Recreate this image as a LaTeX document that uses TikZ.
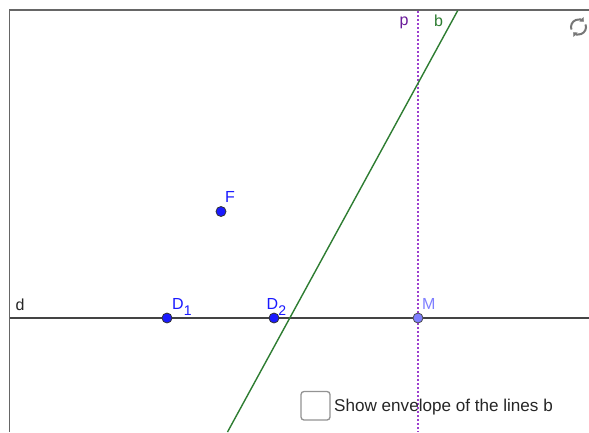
\documentclass[tikz,border=0pt]{standalone}
\usepackage{fontspec}
\setmainfont{Liberation Sans}
\usetikzlibrary{arrows.meta,calc}
\definecolor{framegray}{HTML}{666666}
\definecolor{linegray}{HTML}{444444}
\definecolor{bgreen}{HTML}{2E7D32}
\definecolor{ppurple}{HTML}{6A1B9A}
\definecolor{pdots}{HTML}{9C3FCF}
\definecolor{ptblue}{HTML}{1A1AFF}
\definecolor{mblue}{HTML}{7F7FFF}
\definecolor{iconr}{HTML}{777777}
\newcommand{\lowsub}[1]{\raisebox{-6pt}{\fontsize{14}{16}\selectfont #1}}
\begin{document}
\begin{tikzpicture}[x=1pt,y=-1pt,
  lbl/.style={font=\fontsize{16}{18}\selectfont, inner sep=0pt, anchor=base west},
  pt/.style={circle, draw=black!80, line width=0.8pt, fill=ptblue, minimum size=10pt, inner sep=0pt},
  mpt/.style={circle, draw=black!70, line width=0.8pt, fill=mblue, minimum size=10pt, inner sep=0pt},
  dline/.style={draw=linegray, line width=2pt},
  bline/.style={draw=bgreen, line width=1.4pt},
  pline/.style={draw=pdots, line width=1.6pt, dash pattern=on 1.8pt off 2.2pt},
]
\useasboundingbox (0,0) rectangle (589,432);
\fill[white] (0,0) rectangle (589,432);
% frame
\coordinate (fr1) at (589,10);
\coordinate (fr2) at (9.5,10);
\coordinate (fr3) at (9.5,432);
\draw[framegray, line width=1.3pt] (fr1) -- (fr2) -- (fr3);
% line d
\coordinate (dL) at (10,318);
\coordinate (dR) at (589,318);
\draw[dline] (dL) -- (dR);
% line p
\coordinate (pT) at (417.8,11);
\coordinate (pB) at (417.8,432);
\draw[pline] (pT) -- (pB);
% line b
\coordinate (bT) at (457.7,10.6);
\coordinate (bB) at (227.5,432);
\draw[bline] (bT) -- (bB);
% points
\node[pt] (D1) at (167,318) {};
\node[pt] (D2) at (274,318) {};
\node[pt] (F) at (221,211.5) {};
\node[mpt] (M) at (418,318) {};
% labels
\node[lbl, text=ptblue] (lD1) at (172,309) {D\lowsub{1}};
\node[lbl, text=ptblue] (lD2) at (266.5,309) {D\lowsub{2}};
\node[lbl, text=ptblue] (lF) at (225,202) {F};
\node[lbl, text=mblue] (lM) at (422,309) {M};
\node[lbl, text=black!85] (ld) at (15.5,310) {d};
\node[lbl, text=ppurple] (lp) at (399.5,25.5) {p};
\node[lbl, text=bgreen] (lb) at (434,26) {b};
% checkbox
\draw[gray!85, line width=1.3pt, rounded corners=3pt] (301,391.5) rectangle (330,420);
\node[font=\fontsize{17.1}{19}\selectfont, text=black!85, inner sep=0pt, anchor=base west] (cbtext) at (334,411.5) {Show envelope of the lines b};
% refresh icon
\coordinate (ic) at (578.5,27);
\draw[iconr, line width=2pt, -{Triangle[length=3.5pt,width=6pt]}] ($(ic)+(-200:7.5)$) arc (-200:-45:7.5);
\draw[iconr, line width=2pt, -{Triangle[length=3.5pt,width=6pt]}] ($(ic)+(-20:7.5)$) arc (-20:135:7.5);
\end{tikzpicture}
\end{document}
